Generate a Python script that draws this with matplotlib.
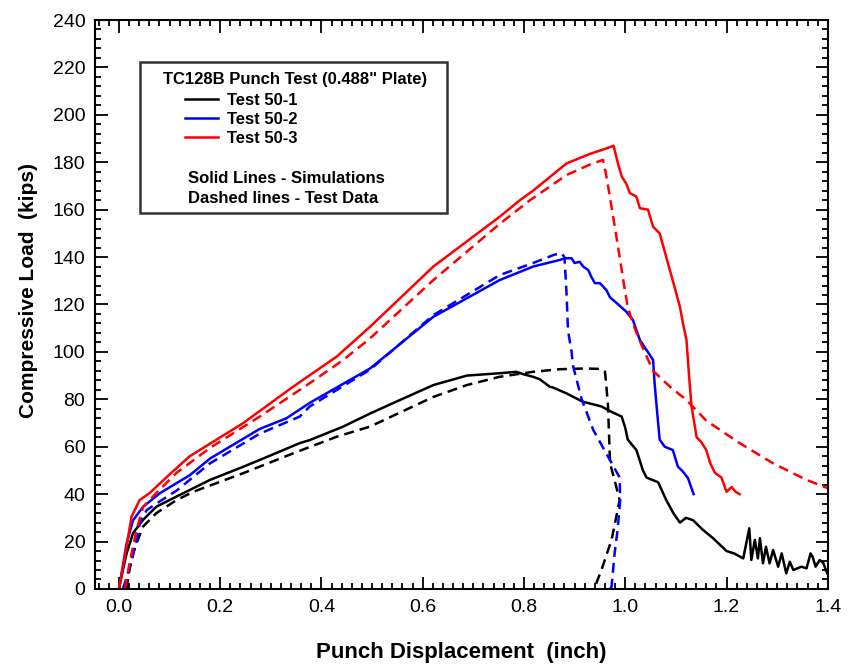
import numpy as np
import matplotlib
matplotlib.use("Agg")
import matplotlib.pyplot as plt
from matplotlib.ticker import MultipleLocator
from matplotlib.lines import Line2D
from matplotlib.patches import Rectangle

plt.rcParams['font.family'] = ['Liberation Sans', 'DejaVu Sans']

# Test 50-1 simulation (solid black)
sim1_x = [0, 0.008, 0.015, 0.028, 0.048, 0.074, 0.114, 0.18, 0.245, 0.278, 0.357, 0.377,
          0.443, 0.496, 0.555, 0.621, 0.687, 0.752, 0.785, 0.80, 0.818, 0.831, 0.851, 0.857,
          0.884, 0.916, 0.953, 0.970, 0.993, 1.0, 1.005, 1.022, 1.035, 1.042, 1.065, 1.081,
          1.095, 1.108, 1.12, 1.134, 1.153, 1.173, 1.2, 1.215, 1.233, 1.245, 1.249, 1.256,
          1.262, 1.266, 1.272, 1.278, 1.285, 1.292, 1.302, 1.309, 1.318, 1.325, 1.332,
          1.348, 1.358, 1.366, 1.370, 1.376, 1.384, 1.391, 1.399]
sim1_y = [0, 8, 14.8, 23.6, 29.2, 34.7, 39, 46, 51.5, 54.4, 61.5, 62.8,
          68.5, 74, 79.7, 86, 90, 91, 91.6, 90.5, 89.5, 88.5, 85.3, 85,
          82.5, 79, 77, 75, 72.7, 68, 63, 58.6, 50, 47, 45, 37.5,
          32, 28, 30, 29, 25, 21.5, 16, 15, 12.9, 25.6, 12.2, 20.7,
          12.9, 21.4, 10.8, 17.8, 10.8, 16.4, 9.4, 15, 6.6, 11.5, 8,
          9.4, 8.7, 15, 13.6, 9.4, 12.2, 11, 6.6]

# Test 50-1 test data (dashed black)
test1_x = [0.015, 0.022, 0.032, 0.048, 0.074, 0.114, 0.147, 0.245, 0.344, 0.43, 0.496,
           0.621, 0.687, 0.752, 0.818, 0.871, 0.92, 0.953, 0.96, 0.963, 0.966, 0.970,
           0.98, 0.989, 0.973, 0.953, 0.943, 0.94]
test1_y = [0, 9.4, 17.8, 26.4, 32, 37.5, 41, 48.8, 57.2, 64.2, 68.5,
           81, 86, 89.5, 91.6, 92.7, 93, 92.8, 91.7, 85, 77, 53,
           45, 37.5, 20.7, 8, 2.5, 0]

# Test 50-2 simulation (solid blue)
sim2_x = [0, 0.008, 0.015, 0.028, 0.048, 0.081, 0.14, 0.18, 0.278, 0.331, 0.377, 0.496,
          0.621, 0.752, 0.818, 0.871, 0.881, 0.894, 0.9, 0.91, 0.917, 0.927, 0.933, 0.94,
          0.95, 0.963, 0.97, 0.983, 1.002, 1.015, 1.029, 1.042, 1.055, 1.058, 1.062, 1.068,
          1.078, 1.094, 1.104, 1.114, 1.124, 1.135]
sim2_y = [0, 10, 19, 29, 34.7, 40.4, 48, 55, 67.5, 72, 78.5, 93,
          114.8, 130.3, 136, 138.8, 139.5, 139.5, 137.5, 138, 136, 134.5, 131.7, 129,
          129, 126, 123, 120.6, 117, 113.5, 105, 100.8, 96.6, 86.8, 77, 63,
          60, 58.6, 51.6, 49.5, 46.7, 40]

# Test 50-2 test data (dashed blue)
test2_x = [0.008, 0.022, 0.035, 0.041, 0.055, 0.074, 0.114, 0.18, 0.278, 0.357, 0.377,
           0.496, 0.621, 0.752, 0.818, 0.86, 0.874, 0.880, 0.884, 0.887, 0.894, 0.897,
           0.914, 0.937, 0.963, 0.989, 0.990, 0.985, 0.979, 0.973, 0.970]
test2_y = [0, 9.4, 20.7, 27.7, 33.3, 36, 41.5, 53, 65.5, 72.7, 77,
           92.5, 115.5, 132.4, 137.5, 141, 141.6, 140, 125, 109, 100, 94,
           80, 67, 57, 47, 37.5, 25, 15, 1, 0]

# Test 50-3 simulation (solid red)
sim3_x = [0, 0.008, 0.015, 0.025, 0.041, 0.061, 0.101, 0.14, 0.245, 0.344, 0.43, 0.496,
          0.621, 0.752, 0.792, 0.818, 0.884, 0.93, 0.965, 0.977, 0.985, 0.993, 1.002,
          1.009, 1.022, 1.029, 1.045, 1.055, 1.068, 1.081, 1.094, 1.108, 1.114, 1.121,
          1.126, 1.131, 1.141, 1.15, 1.16, 1.168, 1.177, 1.19, 1.195, 1.2, 1.21, 1.218,
          1.226]
sim3_y = [0, 9, 17.8, 30.5, 37.5, 40.5, 48.5, 56, 69.9, 85.3, 98, 110.6,
          136, 157, 164, 168, 179.5, 183.5, 186, 187, 180, 174, 171,
          167, 165.5, 160.6, 160, 152.8, 150, 140, 130, 119, 112, 105,
          90, 77, 64, 62, 58.6, 53, 49, 47, 44, 41, 43, 41,
          40]

# Test 50-3 test data (dashed red)
test3_x = [0.012, 0.022, 0.035, 0.048, 0.074, 0.114, 0.18, 0.278, 0.377, 0.443, 0.496,
           0.621, 0.752, 0.812, 0.884, 0.93, 0.956, 0.962, 0.970, 0.98, 0.989, 1.0, 1.005,
           1.015, 1.03, 1.055, 1.09, 1.121, 1.16, 1.226, 1.292, 1.358, 1.4]
test3_y = [0, 12, 25, 34.7, 40.5, 49, 59.5, 72.7, 86.8, 96.6, 105.7,
           130.3, 154, 164, 174.6, 179, 181, 175, 165, 152, 140, 125, 119,
           112, 104, 92, 85, 79.7, 71, 61.5, 53, 46, 42.5]

labels = ["Test 50-1", "Test 50-2", "Test 50-3"]
colors = ["black", "blue", "red"]

fig = plt.figure(figsize=(8.49, 6.67), dpi=100)
ax = fig.add_axes([0.112, 0.117, 0.863, 0.853])

lw = 1.8
dash = (4.0, 2.4)
sims = [(sim1_x, sim1_y), (sim2_x, sim2_y), (sim3_x, sim3_y)]
tests = [(test1_x, test1_y), (test2_x, test2_y), (test3_x, test3_y)]
for (sx, sy), (tx, ty), c in zip(sims, tests, colors):
    ax.plot(tx, ty, color=c, lw=lw, linestyle=(0, dash))
    ax.plot(sx, sy, color=c, lw=lw)

ax.set_xlim(-0.047, 1.4)
ax.set_ylim(0, 240)
ax.xaxis.set_major_locator(MultipleLocator(0.2))
ax.xaxis.set_minor_locator(MultipleLocator(0.02))
ax.yaxis.set_major_locator(MultipleLocator(20))
ax.yaxis.set_minor_locator(MultipleLocator(4))
ax.xaxis.set_major_formatter(plt.FormatStrFormatter('%.1f'))
ax.tick_params(which='both', direction='in', top=True, right=True, width=1.3)
ax.tick_params(which='major', length=9, labelsize=14, pad=7)
ax.tick_params(which='minor', length=4.5)
for s in ax.spines.values():
    s.set_linewidth(1.5)

ax.set_xlabel("Punch Displacement  (inch)", fontsize=16, fontweight='bold', labelpad=19)
ax.set_ylabel("Compressive Load  (kips)", fontsize=15, fontweight='bold')
ax.yaxis.set_label_coords(-0.078, 0.525)

# legend box
ax.add_patch(Rectangle((0.0614, 0.661), 0.4186, 0.265, transform=ax.transAxes,
                       facecolor='white', edgecolor='#333333', lw=1.8, zorder=5))
ax.text(0.273, 0.895, 'TC128B Punch Test (0.488" Plate)', transform=ax.transAxes,
        ha='center', va='center', fontsize=12, fontweight='bold', zorder=6)
handles = [Line2D([], [], color=c, lw=lw) for c in colors]
leg = ax.legend(handles, labels, loc='upper left', bbox_to_anchor=(0.1228, 0.8725),
                frameon=False, borderpad=0, borderaxespad=0, handlelength=2.0,
                handletextpad=0.5, labelspacing=0.26,
                prop={'size': 12, 'weight': 'bold'})
leg.set_zorder(7)
ax.text(0.127, 0.721, "Solid Lines - Simulations", transform=ax.transAxes,
        ha='left', va='center', fontsize=12, fontweight='bold', zorder=6)
ax.text(0.127, 0.686, "Dashed lines - Test Data", transform=ax.transAxes,
        ha='left', va='center', fontsize=12, fontweight='bold', zorder=6)

fig.savefig("out.png", dpi=100)
